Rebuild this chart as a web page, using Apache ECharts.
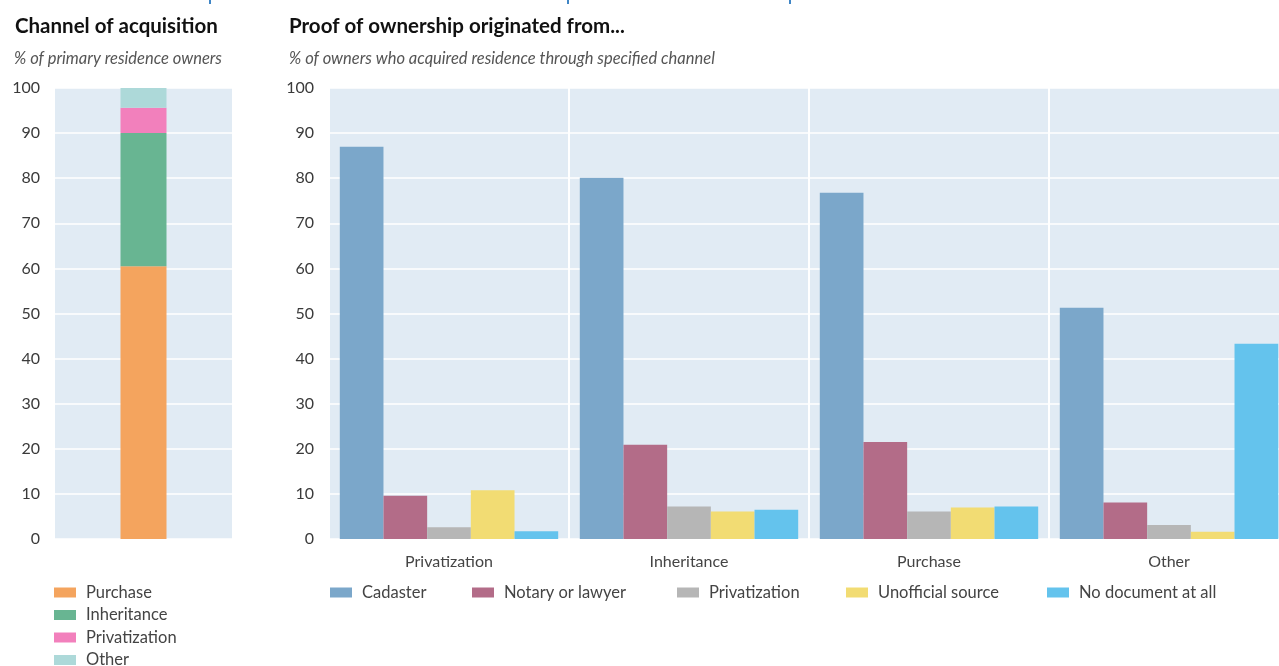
<!DOCTYPE html>
<html>
<head>
<meta charset="utf-8">
<script src="https://cdn.jsdelivr.net/npm/echarts@6/dist/echarts.min.js"></script>
<style>
  html, body { margin: 0; padding: 0; background: #ffffff; }
  #chart { width: 1279px; height: 666px; }
</style>
</head>
<body>
<div id="chart"></div>
<script>
// ---- Data ----
const acqCategories = [''];
const acqSeriesNames = ['Purchase', 'Inheritance', 'Privatization', 'Other'];
const acqValues = [60.5, 29.5, 5.6, 4.4];

const proofCategories = ['Privatization', 'Inheritance', 'Purchase', 'Other'];
const proofSeriesNames = ['Cadaster', 'Notary or lawyer', 'Privatization', 'Unofficial source', 'No document at all'];
const cadaster = [87.0, 80.1, 76.8, 51.3];
const notaryOrLawyer = [9.6, 20.9, 21.5, 8.1];
const privatization = [2.6, 7.2, 6.1, 3.1];
const unofficialSource = [10.8, 6.1, 7.0, 1.6];
const noDocumentAtAll = [1.7, 6.5, 7.2, 43.3];
const proofValues = [cadaster, notaryOrLawyer, privatization, unofficialSource, noDocumentAtAll];

const yMin = 0, yMax = 100, yInterval = 10;

// ---- Styles ----
const acqColors = ['#f4a45e', '#68b592', '#f280bc', '#add9d9'];
const proofColors = ['#7ba7ca', '#b36c88', '#b6b6b6', '#f2dc73', '#64c3ed'];
const FONT = 'Lato, "Open Sans", sans-serif';
const plotBg = '#e1ebf4';
const labelColor = '#3a3a3a';

const chart = echarts.init(document.getElementById('chart'), null, { renderer: 'canvas' });

function yAxis(gridIndex) {
  return {
    type: 'value', gridIndex: gridIndex, min: yMin, max: yMax, interval: yInterval,
    axisLine: { show: false }, axisTick: { show: false },
    axisLabel: { color: labelColor, fontSize: 16, fontFamily: FONT, margin: 15 },
    splitLine: { show: true, lineStyle: { color: '#ffffff', width: 1.5 } }
  };
}

const series = [];
acqSeriesNames.forEach((n, i) => {
  series.push({
    name: n, type: 'bar', stack: 'acq', xAxisIndex: 0, yAxisIndex: 0,
    barWidth: 46, data: [acqValues[i]],
    itemStyle: { color: acqColors[i] }, emphasis: { disabled: true }
  });
});
proofSeriesNames.forEach((n, i) => {
  series.push({
    name: n, type: 'bar', xAxisIndex: 1, yAxisIndex: 1,
    barGap: '0%', barCategoryGap: '9%', data: proofValues[i],
    itemStyle: { color: proofColors[i] }, emphasis: { disabled: true }
  });
});

const legendText = { color: '#444', fontSize: 16.5, fontFamily: FONT, lineHeight: 16, padding: [0, 0, 0, 5] };
const legends = [];
const acqLegendTop = [584, 606.5, 629, 651.5];
acqSeriesNames.forEach((n, i) => {
  legends.push({
    orient: 'horizontal', left: 54, top: acqLegendTop[i], padding: 0, itemWidth: 22, itemHeight: 10,
    selectedMode: false, icon: 'rect', textStyle: legendText,
    data: [{ name: n, itemStyle: { color: acqColors[i] } }]
  });
});
const proofLegendLeft = [330, 472, 677, 846, 1047];
proofSeriesNames.forEach((n, i) => {
  legends.push({
    orient: 'horizontal', left: proofLegendLeft[i], top: 584, padding: 0, itemWidth: 22, itemHeight: 10,
    selectedMode: false, icon: 'rect', textStyle: legendText,
    data: [{ name: n, itemStyle: { color: proofColors[i] } }]
  });
});

chart.setOption({
  backgroundColor: '#ffffff',
  animation: false,
  textStyle: { fontFamily: FONT },
  title: [
    { text: 'Channel of acquisition', left: 15, top: 16, padding: 0,
      textStyle: { fontSize: 20.5, fontWeight: 'bold', color: '#111', fontFamily: FONT } },
    { text: '% of primary residence owners', left: 14, top: 50, padding: 0,
      textStyle: { fontSize: 16.5, fontStyle: 'italic', fontWeight: 'normal', color: '#555', fontFamily: FONT } },
    { text: 'Proof of ownership originated from...', left: 289, top: 16, padding: 0,
      textStyle: { fontSize: 20.5, fontWeight: 'bold', color: '#111', fontFamily: FONT } },
    { text: '% of owners who acquired residence through specified channel', left: 289, top: 50, padding: 0,
      textStyle: { fontSize: 16.5, fontStyle: 'italic', fontWeight: 'normal', color: '#555', fontFamily: FONT } }
  ],
  legend: legends,
  grid: [
    { left: 55, top: 88, width: 177, height: 451, show: true, backgroundColor: plotBg, borderWidth: 0,
      containLabel: false, outerBoundsMode: 'none' },
    { left: 329, top: 88, width: 960, height: 451, show: true, backgroundColor: plotBg, borderWidth: 0,
      containLabel: false, outerBoundsMode: 'none' }
  ],
  xAxis: [
    { type: 'category', gridIndex: 0, data: acqCategories,
      axisLine: { show: false }, axisTick: { show: false }, axisLabel: { show: false }, splitLine: { show: false } },
    { type: 'category', gridIndex: 1, data: proofCategories,
      axisLine: { show: false }, axisTick: { show: false },
      axisLabel: { color: '#444', fontSize: 16, fontFamily: FONT, margin: 15 },
      splitLine: { show: true, lineStyle: { color: '#ffffff', width: 2 } } }
  ],
  yAxis: [yAxis(0), yAxis(1)],
  series: series,
  graphic: [
    { type: 'rect', left: 209, top: 0, shape: { width: 2, height: 4 }, style: { fill: '#3f86c6' } },
    { type: 'rect', left: 567, top: 0, shape: { width: 2, height: 4 }, style: { fill: '#3f86c6' } },
    { type: 'rect', left: 789, top: 0, shape: { width: 2, height: 4 }, style: { fill: '#3f86c6' } }
  ]
});
</script>
</body>
</html>
